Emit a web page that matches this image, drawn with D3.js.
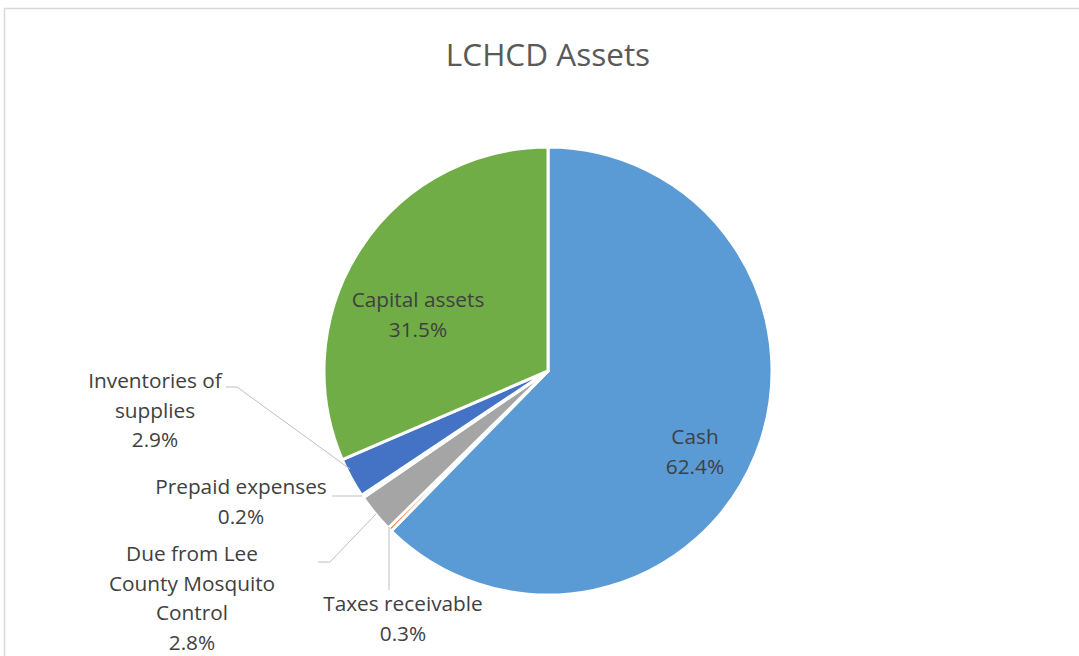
<!DOCTYPE html>
<html>
<head>
<meta charset="utf-8">
<script src="https://cdn.jsdelivr.net/npm/d3@7"></script>
<style>
  html, body { margin: 0; padding: 0; background: #fff; }
  svg { display: block; }
  text { font-family: "Open Sans", "Noto Sans", sans-serif; }
</style>
</head>
<body>
<svg id="chart" width="1079" height="656"></svg>
<script>
// ---- data ----
const categories = ["Cash", "Taxes receivable", "Due from Lee County Mosquito Control", "Prepaid expenses", "Inventories of supplies", "Capital assets"];
const values = [62.4, 0.3, 2.8, 0.2, 2.9, 31.5];
const labelLines = [
  ["Cash"],
  ["Taxes receivable"],
  ["Due from Lee", "County Mosquito", "Control"],
  ["Prepaid expenses"],
  ["Inventories of", "supplies"],
  ["Capital assets"]
];
const colors = ["#5B9BD5", "#ED7D31", "#A5A5A5", "#FFC000", "#4472C4", "#70AD47"];
const title = "LCHCD Assets";

// ---- layout ----
const W = 1079, H = 656;
const cx = 548, cy = 371, R = 224;
const lineH = 29.5;
const labelLayout = [
  { x: 695, y: 437 },
  { x: 403, y: 604, leader: [[389, 590], [389, 527]] },
  { x: 192, y: 554, leader: [[318, 562], [330, 562], [376, 514]] },
  { x: 241, y: 487, leader: [[332, 496], [362, 496]] },
  { x: 155, y: 381, leader: [[226, 387], [237, 387], [350, 469]] },
  { x: 418, y: 300 }
];

const svg = d3.select("#chart");

// frame
svg.append("rect")
  .attr("x", 4.5).attr("y", 8.5)
  .attr("width", W + 20).attr("height", H + 20)
  .attr("fill", "#fff").attr("stroke", "#d9d9d9").attr("stroke-width", 1.5);

// title
svg.append("text")
  .attr("x", cx).attr("y", 66)
  .attr("text-anchor", "middle")
  .attr("font-size", 31.5)
  .attr("fill", "#595959")
  .text(title);

const data = categories.map((c, i) => ({ name: c, value: values[i], idx: i }));
const pie = d3.pie().value(d => d.value).sort(null).startAngle(0).endAngle(2 * Math.PI);
const arcs = pie(data);
const arc = d3.arc().innerRadius(0).outerRadius(R);
const color = d3.scaleOrdinal().domain(categories).range(colors);

const g = svg.append("g").attr("transform", `translate(${cx},${cy})`);
g.selectAll("path.slice")
  .data(arcs)
  .join("path")
  .attr("class", "slice")
  .attr("d", arc)
  .attr("fill", d => color(d.data.name))
  .attr("stroke", "#fff")
  .attr("stroke-width", 3)
  .attr("stroke-linejoin", "round");

// leader lines
const line = d3.line();
arcs.forEach((a, i) => {
  const L = labelLayout[i];
  if (L.leader) {
    svg.append("path")
      .attr("d", line(L.leader))
      .attr("fill", "none")
      .attr("stroke", "#bfbfbf")
      .attr("stroke-width", 1);
  }
});

// labels
const fmt = d3.format(".1f");
arcs.forEach((a, i) => {
  const L = labelLayout[i];
  const lines = labelLines[i].concat([fmt(a.data.value) + "%"]);
  const t = svg.append("text")
    .attr("text-anchor", "middle")
    .attr("font-size", 20.8)
    .attr("fill", "#404040");
  lines.forEach((s, k) => {
    t.append("tspan")
      .attr("x", L.x)
      .attr("y", L.y + 7 + k * lineH)
      .text(s);
  });
});
</script>
</body>
</html>
